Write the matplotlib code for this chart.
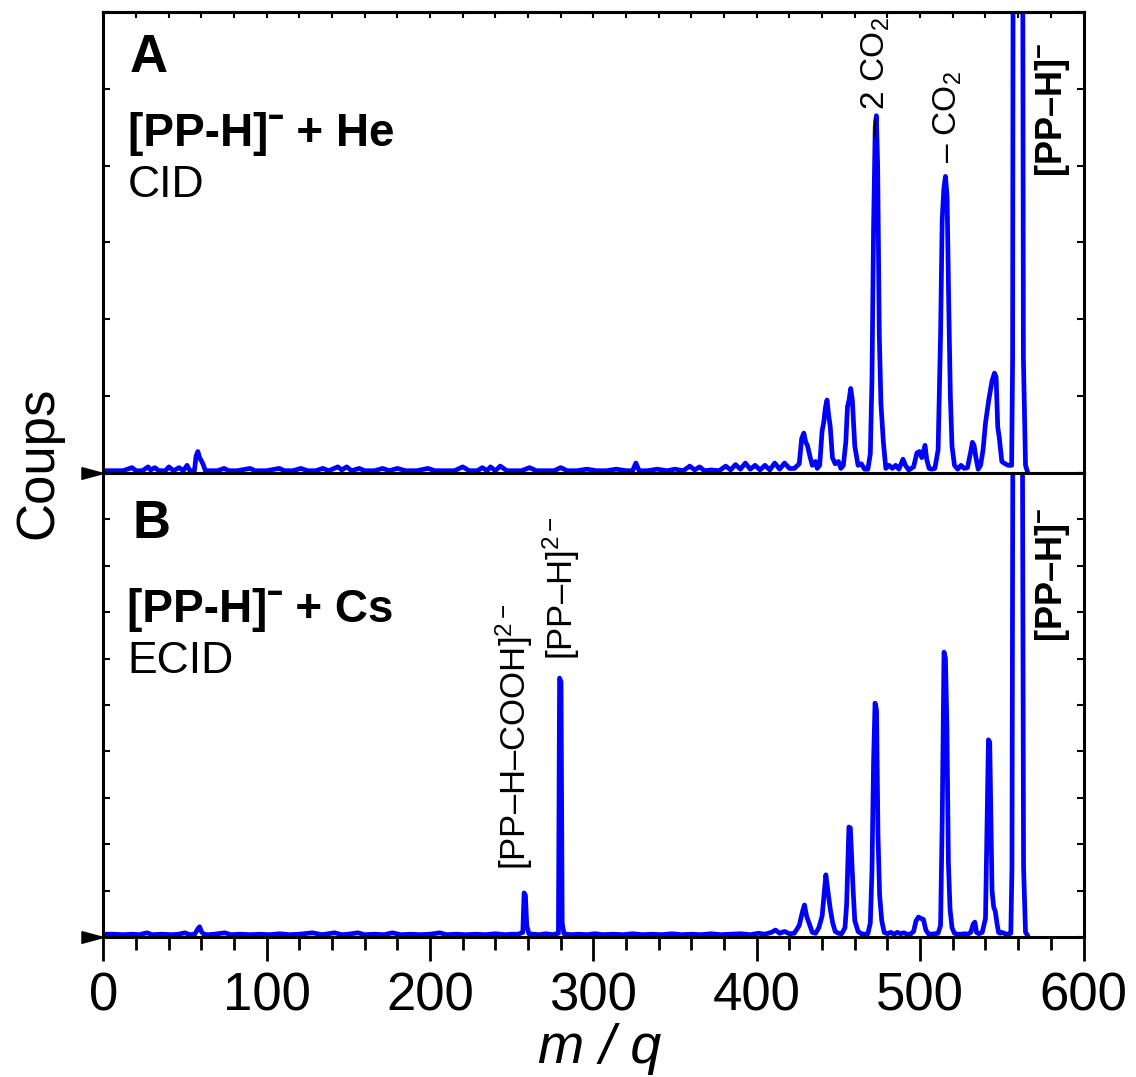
import numpy as np
import matplotlib
matplotlib.use("Agg")
import matplotlib.pyplot as plt
from matplotlib.ticker import MultipleLocator

plt.rcParams['font.family'] = ['Liberation Sans', 'DejaVu Sans']
plt.rcParams['mathtext.fontset'] = 'custom'
plt.rcParams['mathtext.rm'] = 'Liberation Sans'
plt.rcParams['mathtext.it'] = 'Liberation Sans:italic'
plt.rcParams['mathtext.bf'] = 'Liberation Sans:bold'
plt.rcParams['mathtext.default'] = 'regular'

# Panel A: [PP-H]- + He, CID  (m/q, counts in tick units)
mz_a = [0, 5, 12, 17.6, 20, 24, 27.4, 29, 31.6, 34,
        38, 40.2, 43, 46.4, 49, 51.3, 53, 55.8, 56.8, 57.9,
        59, 60, 61, 62.5, 66, 70, 73.9, 77, 82, 89.8,
        93, 100, 107.6, 111, 116, 121, 125, 130, 134.4, 138,
        143.6, 146, 149, 152, 156.6, 160, 166, 171, 175, 180,
        185, 192, 198.7, 203, 210, 215, 220, 224, 229, 232,
        235, 237, 240, 243, 247, 252, 256, 261, 265, 271,
        276, 280, 284, 290, 296, 302, 308, 314, 320, 324,
        326, 328, 333, 339, 345, 350, 355, 359, 362, 365,
        368, 372, 377, 381, 384, 387, 390, 393, 396, 399,
        402, 405, 408, 411, 414, 417, 420, 423, 426, 427.5,
        428.8, 430, 431, 432.5, 434, 436, 437, 438.5, 440, 441,
        442, 443, 444, 445, 446.3, 448, 450, 451.5, 453, 454.5,
        455.5, 456.5, 457.5, 458.5, 460, 462, 464, 466, 468, 469.5,
        470.5, 471.5, 472.5, 473.2, 474, 475, 476, 477.5, 479, 481,
        483, 485, 487, 489.5, 491, 493, 496, 498, 499.5, 501,
        503, 504, 505.5, 507, 509, 511, 512.5, 513.5, 514.5, 515.5,
        516.5, 517.5, 518.5, 519.5, 521, 523, 525, 527, 529, 531,
        532, 533, 534, 535.5, 537, 538.5, 540, 542, 544, 545.5,
        546.5, 547.5, 548.5, 550, 552, 554, 556.0, 556.6, 557.2, 562.4,
        563.2, 564.5, 565.5]
counts_a = [.03, .03, .03, .07, .03, .03, .08, .04, .07, .03,
            .03, .08, .03, .07, .03, .10, .03, .03, .22, .28,
            .20, .16, .12, .03, .03, .03, .06, .03, .03, .06,
            .03, .03, .06, .03, .03, .06, .03, .03, .06, .03,
            .08, .04, .08, .03, .06, .03, .03, .06, .03, .06,
            .03, .03, .06, .03, .03, .03, .08, .03, .03, .07,
            .03, .08, .03, .09, .03, .03, .03, .07, .03, .03,
            .03, .07, .03, .03, .05, .03, .03, .05, .03, .03,
            .13, .03, .03, .05, .03, .05, .03, .09, .04, .08,
            .03, .04, .03, .09, .04, .11, .05, .13, .05, .10,
            .04, .10, .04, .13, .05, .13, .06, .06, .12, .45,
            .52, .40, .36, .22, .10, .15, .06, .10, .55, .66,
            .85, .95, .75, .60, .20, .12, .15, .06, .10, .40,
            .86, .95, 1.10, .95, .35, .10, .12, .05, .05, .25,
            1.2, 3.2, 4.5, 4.65, 4.0, 1.8, .9, .4, .06, .10,
            .06, .10, .05, .18, .10, .04, .08, .26, .28, .20,
            .36, .18, .06, .05, .06, .30, 1.8, 3.3, 3.7, 3.86,
            3.6, 2.2, 1.0, .35, .10, .05, .10, .06, .07, .28,
            .40, .36, .22, .05, .10, .30, .65, .95, 1.2, 1.3,
            1.25, .60, .45, .15, .12, .10, .10, 1.5, 12, 12,
            1.5, .10, .03]

# Panel B: [PP-H]- + Cs, ECID
mz_b = [0, 6, 12, 18, 22, 26.8, 30, 36, 42, 46,
        50, 53, 56, 58, 59, 60, 61.5, 64, 68, 74.4,
        78, 84, 90, 96, 102, 108, 114, 120, 128, 134,
        141.6, 146, 150, 155.8, 160, 166, 172, 177, 182, 188,
        194, 200, 206, 210, 216, 222, 228, 234, 240, 246,
        250, 254, 256.8, 257.6, 258.4, 259.2, 260.5, 263, 267, 271,
        275, 278.6, 279.3, 280.2, 280.9, 282, 286, 291, 296, 301,
        306, 312, 318, 324, 330, 336, 342, 348, 354, 360,
        366, 372, 378, 384, 390, 396, 401, 405, 409, 411.5,
        414, 417, 420, 423, 426, 428, 429.2, 430.5, 432, 434,
        436, 438, 440, 441, 442.3, 443.5, 445, 446.5, 448, 450,
        452, 454, 455, 456.4, 457.3, 458.2, 459, 460, 462, 464,
        466, 468, 469.5, 470.5, 471.5, 472.4, 473.3, 474.2, 475.2, 476.5,
        478, 480, 482, 484, 486, 488, 490, 492, 494, 496,
        497.5, 499, 500.5, 502, 503.5, 505, 507, 509, 511, 512.5,
        513.5, 514.6, 515.5, 516.4, 517.3, 518.3, 519.5, 521, 523, 525,
        527, 529, 531, 532.5, 533.5, 534.5, 536, 538, 540, 541,
        541.8, 542.6, 543.3, 544, 545, 546, 547, 548, 549, 550,
        552, 554, 555.5, 556.2, 557, 562.3, 563.3, 564.5, 565.5]
counts_b = [.06, .06, .05, .06, .05, .09, .05, .06, .05, .06,
            .09, .05, .06, .18, .22, .12, .06, .05, .06, .09,
            .05, .06, .05, .06, .05, .07, .05, .06, .09, .05,
            .09, .05, .06, .09, .05, .06, .05, .09, .05, .06,
            .05, .06, .09, .05, .06, .05, .06, .05, .07, .05,
            .06, .06, .10, .95, .90, .25, .07, .06, .05, .07,
            .05, .08, 5.58, 5.5, .30, .07, .05, .06, .05, .07,
            .05, .06, .05, .07, .05, .06, .05, .07, .05, .06,
            .05, .07, .05, .06, .07, .05, .08, .06, .10, .15,
            .08, .12, .07, .08, .25, .55, .69, .45, .30, .10,
            .08, .20, .45, .84, 1.34, 1.0, .60, .30, .12, .08,
            .07, .20, .70, 2.37, 2.35, 1.66, 1.0, .35, .12, .07,
            .06, .07, .30, 1.4, 3.8, 5.04, 4.9, 2.2, .9, .35,
            .10, .07, .10, .06, .10, .07, .09, .06, .06, .12,
            .35, .43, .40, .38, .15, .07, .06, .07, .08, .25,
            2.5, 6.14, 6.0, 4.5, 1.6, .6, .20, .08, .06, .06,
            .07, .06, .10, .28, .32, .10, .07, .10, .40, 2.5,
            4.25, 4.2, 2.6, 1.0, .65, .55, .30, .10, .08, .10,
            .07, .06, .08, 1.5, 15, 15, 1.5, .10, .05]

xticks = [0, 100, 200, 300, 400, 500, 600]

fig = plt.figure(figsize=(11.36, 10.77), dpi=100)
left, width = 0.0909, 0.8629
ax_a = fig.add_axes([left, 0.5608, width, 0.9889 - 0.5608])
ax_b = fig.add_axes([left, 0.1300, width, 0.5608 - 0.1300])

blue = '#0000ff'
ax_a.plot(mz_a, counts_a, color=blue, lw=3.4, solid_joinstyle='round')
ax_b.plot(mz_b, counts_b, color=blue, lw=3.4, solid_joinstyle='round')

ax_a.set_ylim(0, 6)
ax_b.set_ylim(0, 10)

# arrow markers at zero
arrow = [(-1, 0.27), (0, 0), (-1, -0.27), (-1, 0.27)]
for ax in (ax_a, ax_b):
    ax.plot([0], [0], marker=arrow, ms=31, color='k', clip_on=False, zorder=5)
    ax.set_xlim(0, 600)
    ax.xaxis.set_major_locator(MultipleLocator(100))
    ax.xaxis.set_minor_locator(MultipleLocator(20))
    ax.yaxis.set_major_locator(MultipleLocator(1))
    ax.tick_params(axis='x', which='major', direction='out', length=17, width=2,
                   top=False, bottom=True)
    ax.tick_params(axis='x', which='minor', direction='out', length=9, width=2,
                   top=False, bottom=True)
    ax.tick_params(axis='y', which='major', direction='in', length=5, width=1.5,
                   left=True, right=True, labelleft=False)
    for s in ax.spines.values():
        s.set_linewidth(2.2)

ax_a.tick_params(axis='x', labelbottom=False)
ax_b.set_xticks(xticks)
ax_b.tick_params(axis='x', labelsize=38, pad=8)

top = ax_a.secondary_xaxis('top')
top.set_xticks(np.arange(0, 601, 20))
top.tick_params(direction='in', length=4, width=1.5, labeltop=False)
top.spines['top'].set_linewidth(2.2)

# labels
fig.text(38 / 1136, 1 - 463 / 1077, 'Coups', rotation=90, ha='center', va='center', fontsize=38)
fig.text(600 / 1136, 1 - 1063 / 1077, 'm / q', style='italic', ha='center', va='baseline', fontsize=40)

# panel A texts
ax_a.text(16.3, 5.22, 'A', fontsize=38, fontweight='bold', va='baseline')
ax_a.text(15.1, 4.26, '[PP-H]\u02c9 + He', fontsize=33, fontweight='bold', va='baseline')
ax_a.text(15.1, 3.59, 'CID', fontsize=32, va='baseline')
ax_a.text(472.9, 4.37, '– 2 CO$_2$', rotation=90, ha='center', va='bottom', fontsize=24)
ax_a.text(516.9, 4.03, '– CO$_2$', rotation=90, ha='center', va='bottom', fontsize=24)
ax_a.text(581.2, 3.85, '[PP–H]$^{-}$', rotation=90, ha='center', va='bottom',
          fontsize=26, fontweight='bold')

# panel B texts
ax_b.text(17.6, 8.6, 'B', fontsize=38, fontweight='bold', va='baseline')
ax_b.text(14.6, 6.79, '[PP-H]\u02c9 + Cs', fontsize=33, fontweight='bold', va='baseline')
ax_b.text(14.6, 5.69, 'ECID', fontsize=32, va='baseline')
ax_b.text(251.3, 1.44, '[PP–H–COOH]$^{2-}$', rotation=90, ha='center', va='bottom', fontsize=25)
ax_b.text(280.1, 5.97, '[PP–H]$^{2-}$', rotation=90, ha='center', va='bottom', fontsize=25)
ax_b.text(581.2, 6.36, '[PP–H]$^{-}$', rotation=90, ha='center', va='bottom',
          fontsize=26, fontweight='bold')

fig.savefig('out.png', dpi=100)
